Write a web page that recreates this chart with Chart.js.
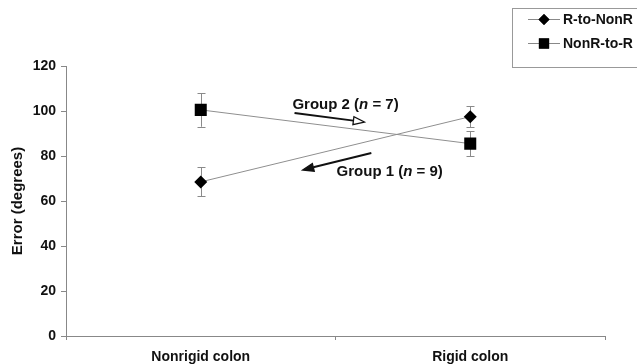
<!DOCTYPE html>
<html>
<head>
<meta charset="utf-8">
<script src="https://cdn.jsdelivr.net/npm/chart.js@4/dist/chart.umd.min.js"></script>
<style>
html,body{margin:0;padding:0;background:#fff;}
#wrap{position:relative;width:637px;height:364px;}
</style>
</head>
<body>
<div id="wrap"><canvas id="c" width="637" height="364"></canvas></div>
<script>
const categories = ['Nonrigid colon', 'Rigid colon'];
const rToNonR = [68.5, 97.5];
const rToNonRErr = [6.4, 4.7];
const nonRToR = [100.5, 85.5];
const nonRToRErr = [7.5, 5.5];
const yTickValues = [0, 20, 40, 60, 80, 100, 120];
const seriesNames = ['R-to-NonR', 'NonR-to-R'];
// annotations in data coordinates: x = category index (fractional), y = value
const notes = [
  {text: ['Group 2 (', 'n', ' = 7)'], x: 0.34, y: 102.7},
  {text: ['Group 1 (', 'n', ' = 9)'], x: 0.504, y: 72.9}
];
const arrows = [
  {x1: 0.348, y1: 99.1, x2: 0.607, y2: 95.1, open: true},
  {x1: 0.633, y1: 81.3, x2: 0.378, y2: 73.8, open: false}
];

const FONT = '"Liberation Sans", Arial, sans-serif';
const errs = [rToNonRErr, nonRToRErr];

function xPix(scale, idx) {
  const a = scale.getPixelForValue(0), b = scale.getPixelForValue(1);
  return a + (b - a) * idx;
}

const extras = {
  id: 'extras',
  beforeDatasetsDraw(chart) {
    const ctx = chart.ctx, xs = chart.scales.x, ys = chart.scales.y;
    ctx.save();
    ctx.strokeStyle = '#8a8a8a';
    ctx.lineWidth = 1;
    chart.data.datasets.forEach((ds, di) => {
      ds.data.forEach((v, i) => {
        const x = Math.round(xs.getPixelForValue(i)) + 0.5;
        const yt = ys.getPixelForValue(v + errs[di][i]);
        const yb = ys.getPixelForValue(v - errs[di][i]);
        ctx.beginPath();
        ctx.moveTo(x, yt); ctx.lineTo(x, yb);
        ctx.moveTo(x - 4, Math.round(yt) + 0.5); ctx.lineTo(x + 4, Math.round(yt) + 0.5);
        ctx.moveTo(x - 4, Math.round(yb) + 0.5); ctx.lineTo(x + 4, Math.round(yb) + 0.5);
        ctx.stroke();
      });
    });
    ctx.restore();
  },
  afterDraw(chart) {
    const ctx = chart.ctx, xs = chart.scales.x, ys = chart.scales.y;
    ctx.save();
    // annotations
    ctx.fillStyle = '#111';
    ctx.textBaseline = 'middle';
    notes.forEach(n => {
      let x = xPix(xs, n.x);
      const y = ys.getPixelForValue(n.y);
      n.text.forEach((t, k) => {
        ctx.font = (k === 1 ? 'italic bold ' : 'bold ') + '15px ' + FONT;
        ctx.fillText(t, x, y);
        x += ctx.measureText(t).width;
      });
    });
    ctx.strokeStyle = '#111';
    ctx.lineWidth = 2;
    arrows.forEach(a => {
      const x1 = xPix(xs, a.x1), y1 = ys.getPixelForValue(a.y1);
      const x2 = xPix(xs, a.x2), y2 = ys.getPixelForValue(a.y2);
      const ang = Math.atan2(y2 - y1, x2 - x1);
      const L = 11, W = 4;
      const bx = x2 - Math.cos(ang) * L, by = y2 - Math.sin(ang) * L;
      ctx.beginPath();
      ctx.moveTo(x1, y1); ctx.lineTo(bx, by);
      ctx.stroke();
      ctx.beginPath();
      ctx.moveTo(x2, y2);
      ctx.lineTo(bx - Math.sin(ang) * W, by + Math.cos(ang) * W);
      ctx.lineTo(bx + Math.sin(ang) * W, by - Math.cos(ang) * W);
      ctx.closePath();
      ctx.lineWidth = 1.3;
      if (a.open) { ctx.fillStyle = '#fff'; ctx.fill(); ctx.stroke(); }
      else { ctx.fillStyle = '#111'; ctx.fill(); ctx.stroke(); }
      ctx.lineWidth = 2;
    });
    // legend
    ctx.strokeStyle = '#999';
    ctx.lineWidth = 1;
    ctx.strokeRect(512.5, 8.5, 140, 59);
    const rows = [19.5, 43.5];
    chart.data.datasets.forEach((ds, i) => {
      const y = rows[i];
      ctx.strokeStyle = '#888';
      ctx.beginPath(); ctx.moveTo(528, y); ctx.lineTo(560, y); ctx.stroke();
      Chart.helpers.drawPoint(ctx, {pointStyle: ds.pointStyle, radius: ds.pointRadius * 0.85, borderWidth: 0}, 544, y);
      ctx.fillStyle = '#000';
      ctx.fill();
      ctx.fillStyle = '#111';
      ctx.font = 'bold 14px ' + FONT;
      ctx.textBaseline = 'middle';
      ctx.fillText(seriesNames[i], 563, y + 1);
    });
    ctx.restore();
  }
};

new Chart(document.getElementById('c'), {
  type: 'line',
  data: {
    labels: categories,
    datasets: [
      {label: seriesNames[0], data: rToNonR, borderColor: '#8f8f8f', borderWidth: 1,
       pointStyle: 'rectRot', pointRadius: 6.5, pointBackgroundColor: '#000', pointBorderColor: '#000', pointBorderWidth: 0},
      {label: seriesNames[1], data: nonRToR, borderColor: '#8f8f8f', borderWidth: 1,
       pointStyle: 'rect', pointRadius: 8.5, pointBackgroundColor: '#000', pointBorderColor: '#000', pointBorderWidth: 0}
    ]
  },
  options: {
    responsive: false,
    animation: false,
    layout: {padding: {top: 66, right: 32, left: 0, bottom: 0}},
    plugins: {legend: {display: false}, tooltip: {enabled: false}},
    scales: {
      x: {
        offset: true,
        grid: {offset: true, drawOnChartArea: false, color: '#888', tickLength: 4},
        border: {color: '#888'},
        ticks: {color: '#111', font: {family: FONT, size: 14, weight: 'bold'}, padding: 9, maxRotation: 0},
        afterFit(s) { s.height = 28; }
      },
      y: {
        min: 0, max: 120,
        afterBuildTicks(s) { s.ticks = yTickValues.map(v => ({value: v})); },
        grid: {drawOnChartArea: false, color: '#888', tickLength: 5},
        border: {color: '#888'},
        ticks: {color: '#111', font: {family: FONT, size: 14, weight: 'bold'}, padding: 5},
        title: {display: true, text: 'Error (degrees)', color: '#111', font: {family: FONT, size: 15, weight: 'bold'}, padding: {top: 9, bottom: 4}},
        afterFit(s) { s.width = 66; }
      }
    }
  },
  plugins: [extras]
});
</script>
</body>
</html>
